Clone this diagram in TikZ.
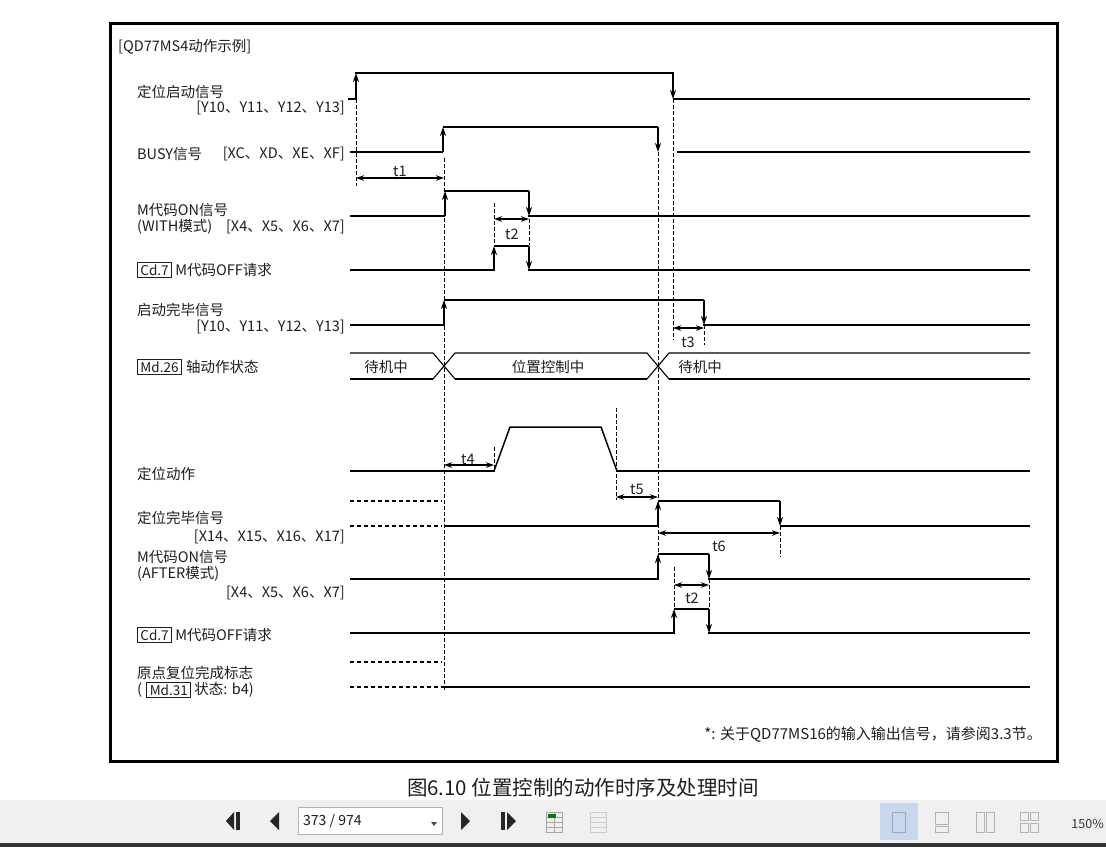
\documentclass[tikz,border=0pt]{standalone}
\usepackage{fontspec}
\setmainfont{Noto Sans CJK SC}
\usetikzlibrary{arrows.meta}
\definecolor{txt}{RGB}{30,30,30}
\definecolor{barbg}{RGB}{240,240,240}
\definecolor{hilite}{RGB}{200,215,238}
\begin{document}
\begin{tikzpicture}[x=1pt,y=-1pt,
  every node/.style={font=\fontsize{14.5}{16}\selectfont, text=txt, inner sep=0pt},
  thk/.style={line width=2.2pt},
  thn/.style={line width=1.1pt},
  tip/.style={-{Stealth[length=9pt,width=6pt]}},
  dimarr/.style={line width=1.1pt,{Stealth[length=8pt,width=5.5pt]}-{Stealth[length=8pt,width=5.5pt]}},
  vdash/.style={line width=0.9pt, dash pattern=on 3.5pt off 2.5pt},
  hdash/.style={line width=1.1pt, dash pattern=on 4pt off 3pt},
  cdbox/.style={draw=txt, line width=0.9pt, inner xsep=3pt, inner ysep=2pt, font=\fontsize{13.5}{15}\selectfont}
]
\useasboundingbox (0,0) rectangle (1106,847);
\fill[white] (0,0) rectangle (1106,847);
% frame
\draw[line width=3pt] (110,23) rectangle (1057,761);
\node[anchor=west] (title) at (118,47) {[QD77MS4动作示例]};

% ---- labels ----
\node[anchor=west] (l1) at (137,92) {定位启动信号};
\node[anchor=east] (l1b) at (345,108) {[Y10、Y11、Y12、Y13]};
\node[anchor=west] (l2) at (137,154) {BUSY信号};
\node[anchor=east] (l2b) at (345,154) {[XC、XD、XE、XF]};
\node[anchor=west] (l3) at (137,210) {M代码ON信号};
\node[anchor=west] (l3a) at (137,227) {(WITH模式)};
\node[anchor=east] (l3b) at (345,227) {[X4、X5、X6、X7]};
\node[cdbox,anchor=west] (cd7a) at (137,270) {Cd.7};
\node[anchor=west] (l4) at ([xshift=3pt]cd7a.east) {M代码OFF请求};
\node[anchor=west] (l5) at (137,310) {启动完毕信号};
\node[anchor=east] (l5b) at (345,327) {[Y10、Y11、Y12、Y13]};
\node[cdbox,anchor=west] (md26) at (137,367) {Md.26};
\node[anchor=west] (l6) at ([xshift=4pt]md26.east) {轴动作状态};
\node[anchor=west] (l7) at (137,474) {定位动作};
\node[anchor=west] (l8) at (137,518) {定位完毕信号};
\node[anchor=east] (l8b) at (345,537) {[X14、X15、X16、X17]};
\node[anchor=west] (l9) at (137,557) {M代码ON信号};
\node[anchor=west] (l9a) at (137,574) {(AFTER模式)};
\node[anchor=east] (l9b) at (345,593) {[X4、X5、X6、X7]};
\node[cdbox,anchor=west] (cd7b) at (137,635) {Cd.7};
\node[anchor=west] (l10) at ([xshift=3pt]cd7b.east) {M代码OFF请求};
\node[anchor=west] (l11) at (137,673) {原点复位完成标志};
\node[anchor=west] (l11p) at (137,690) {(};
\node[cdbox,anchor=west] (md31) at ([xshift=4pt]l11p.east) {Md.31};
\node[anchor=west] (l11b) at ([xshift=3pt]md31.east) {状态: b4)};

% ---- dashed verticals ----
\draw[vdash] (356,99) -- (356,186);
\draw[vdash] (444,158) -- (444,690);
\draw[vdash] (673,99) -- (673,340);
\draw[vdash] (658,152) -- (658,556);
\draw[vdash] (494,203) -- (494,245);
\draw[vdash] (529,219) -- (529,245);
\draw[vdash] (704,325) -- (704,345);
\draw[vdash] (494,447) -- (494,471);
\draw[vdash] (616,408) -- (616,500);
\draw[vdash] (780,526) -- (780,557);
\draw[vdash] (674,567) -- (674,609);
\draw[vdash] (709,579) -- (709,610);

% ---- row 1: 定位启动信号 ----
\draw[thn] (348,99) -- (356,99);
\draw[thk,tip] (356,99) -- (356,73);
\draw[thk] (355,73) -- (674,73);
\draw[thn,tip] (673,73) -- (673,99);
\draw[thn] (673,99) -- (1030,99);

% ---- row 2: BUSY ----
\draw[thn] (350,152) -- (443,152);
\draw[thk,tip] (443,152) -- (443,127);
\draw[thn] (443,127) -- (658,127) ;
\draw[thn,tip] (658,127) -- (658,152);
\draw[thn] (677,152) -- (1030,152);

% ---- row 3: M code ON (WITH) ----
\draw[thk] (350,216) -- (445,216);
\draw[thk,tip] (445,216) -- (445,191);
\draw[thn] (445,191) -- (529,191);
\draw[thn,tip] (529,191) -- (529,216);
\draw[thk] (528,216) -- (1030,216);

% ---- row 4: Cd.7 ----
\draw[thk] (350,270) -- (495,270);
\draw[thk,tip] (494,270) -- (494,246);
\draw[thk] (494,246) -- (529,246);
\draw[thn,tip] (529,246) -- (529,270);
\draw[thk] (528,270) -- (1030,270);

% ---- row 5: 启动完毕 ----
\draw[thk] (350,325) -- (445,325);
\draw[thn,tip] (444,325) -- (444,300);
\draw[thn] (444,300) -- (704,300);
\draw[thn,tip] (704,300) -- (704,325);
\draw[thk] (703,325) -- (1030,325);

% ---- row 6: Md.26 bus ----
\draw[thn] (350,353) -- (433,353) -- (455,379);
\draw[thk] (350,379) -- (433,379);
\draw[thn] (433,379) -- (455,353) -- (647,353) -- (669,379);
\draw[thk] (455,379) -- (647,379);
\draw[thn] (647,379) -- (669,353) -- (1030,353);
\draw[thk] (669,379) -- (1030,379);
\node (s1) at (386,367) {待机中};
\node (s2) at (548,367) {位置控制中};
\node (s3) at (700,367) {待机中};

% ---- row 7: 定位动作 ----
\draw[thk] (350,471) -- (495,471);
\draw[line width=1.5pt,line join=round] (494,471) -- (510,427) -- (601,427) -- (617,471);
\draw[thk] (616,471) -- (1030,471);

% ---- row 8: 定位完毕 ----
\draw[hdash] (350,501) -- (442,501);
\draw[hdash] (350,526) -- (442,526);
\draw[thn] (444,526) -- (658,526);
\draw[thn,tip] (658,526) -- (658,501);
\draw[thn] (658,501) -- (780,501);
\draw[thk,tip] (780,501) -- (780,526);
\draw[thn] (780,526) -- (1030,526);

% ---- row 9: M code ON (AFTER) ----
\draw[thk] (350,579) -- (659,579);
\draw[thn,tip] (658,579) -- (658,554);
\draw[thn] (658,554) -- (709,554);
\draw[thn,tip] (709,554) -- (709,579);
\draw[thk] (708,579) -- (1030,579);

% ---- row 10: Cd.7 ----
\draw[thk] (350,633) -- (675,633);
\draw[thn,tip] (674,633) -- (674,609);
\draw[thn] (674,609) -- (709,609);
\draw[thn,tip] (709,609) -- (709,633);
\draw[thk] (708,633) -- (1030,633);

% ---- row 11: 原点复位完成标志 ----
\draw[hdash] (350,662) -- (442,662);
\draw[line width=2pt, dash pattern=on 4pt off 3pt] (350,687) -- (444,687);
\draw[thk] (444,687) -- (1030,687);

% ---- dimension arrows ----
\draw[dimarr] (356,178) -- (444,178);
\node (t1) at (400,171) {t1};
\draw[dimarr] (494,219) -- (529,219);
\node (t2a) at (512,234) {t2};
\draw[dimarr] (673,328) -- (704,328);
\node (t3) at (688,342) {t3};
\draw[dimarr] (444,465) -- (494,465);
\node (t4) at (468,459) {t4};
\draw[dimarr] (616,497) -- (658,497);
\node (t5) at (637,489) {t5};
\draw[dimarr] (658,533) -- (780,533);
\node (t6) at (719,546) {t6};
\draw[dimarr] (674,585) -- (709,585);
\node (t2b) at (692,598) {t2};

% footnote
\node[anchor=east, font=\fontsize{15}{17}\selectfont] (note) at (1042,735) {*: 关于QD77MS16的输入输出信号，请参阅3.3节。};

% caption
\node[font=\fontsize{20.5}{22}\selectfont] (cap) at (583,788) {图6.10 位置控制的动作时序及处理时间};

% ---- viewer toolbar ----
\fill[barbg] (0,800) rectangle (1106,843);
\fill[black!80] (0,843) rectangle (1106,847);
\fill[black!85] (226,821) -- (234,812) -- (234,830) -- cycle;
\fill[black!85] (236,812) rectangle (240,830);
\fill[black!85] (270,821) -- (279,812) -- (279,830) -- cycle;
\node[draw=gray!60, fill=white, minimum width=144pt, minimum height=27pt, anchor=west] (pagebox) at (298,821) {};
\node[anchor=west, font=\fontsize{14}{16}\selectfont] (pagetxt) at (303,821) {373 / 974};
\fill[black!70] (431,822) -- (437,822) -- (434,826) -- cycle;
\fill[black!85] (461,812) -- (470,821) -- (461,830) -- cycle;
\fill[black!85] (501,812) rectangle (505,830);
\fill[black!85] (507,812) -- (516,821) -- (507,830) -- cycle;
\draw[gray!70, line width=1pt] (546,812) rectangle (562,832);
\draw[gray!70, line width=0.8pt] (546,817) -- (562,817) (546,822) -- (562,822) (546,827) -- (562,827) (554,812) -- (554,832);
\fill[green!50!black] (548,814) rectangle (556,818);
\draw[gray!40, line width=1pt] (590,812) rectangle (606,832);
\draw[gray!40, line width=0.8pt] (590,817) -- (606,817) (590,822) -- (606,822) (590,827) -- (606,827);
\fill[hilite] (880,803) rectangle (918,840);
\draw[gray!70, line width=1pt] (892,812) rectangle (905,832);
\draw[gray!60, line width=1pt] (935,812) rectangle (948,824) (935,826) rectangle (948,832);
\draw[gray!60, line width=1pt] (976,812) rectangle (984,832) (986,812) rectangle (994,832);
\draw[gray!60, line width=1pt] (1020,812) rectangle (1028,820) (1030,812) rectangle (1038,820) (1020,823) rectangle (1028,832) (1030,823) rectangle (1038,832);
\node[anchor=east, font=\fontsize{12.5}{14}\selectfont, text=black!80] (zoomtxt) at (1104,824) {150\%};
\end{tikzpicture}
\end{document}
